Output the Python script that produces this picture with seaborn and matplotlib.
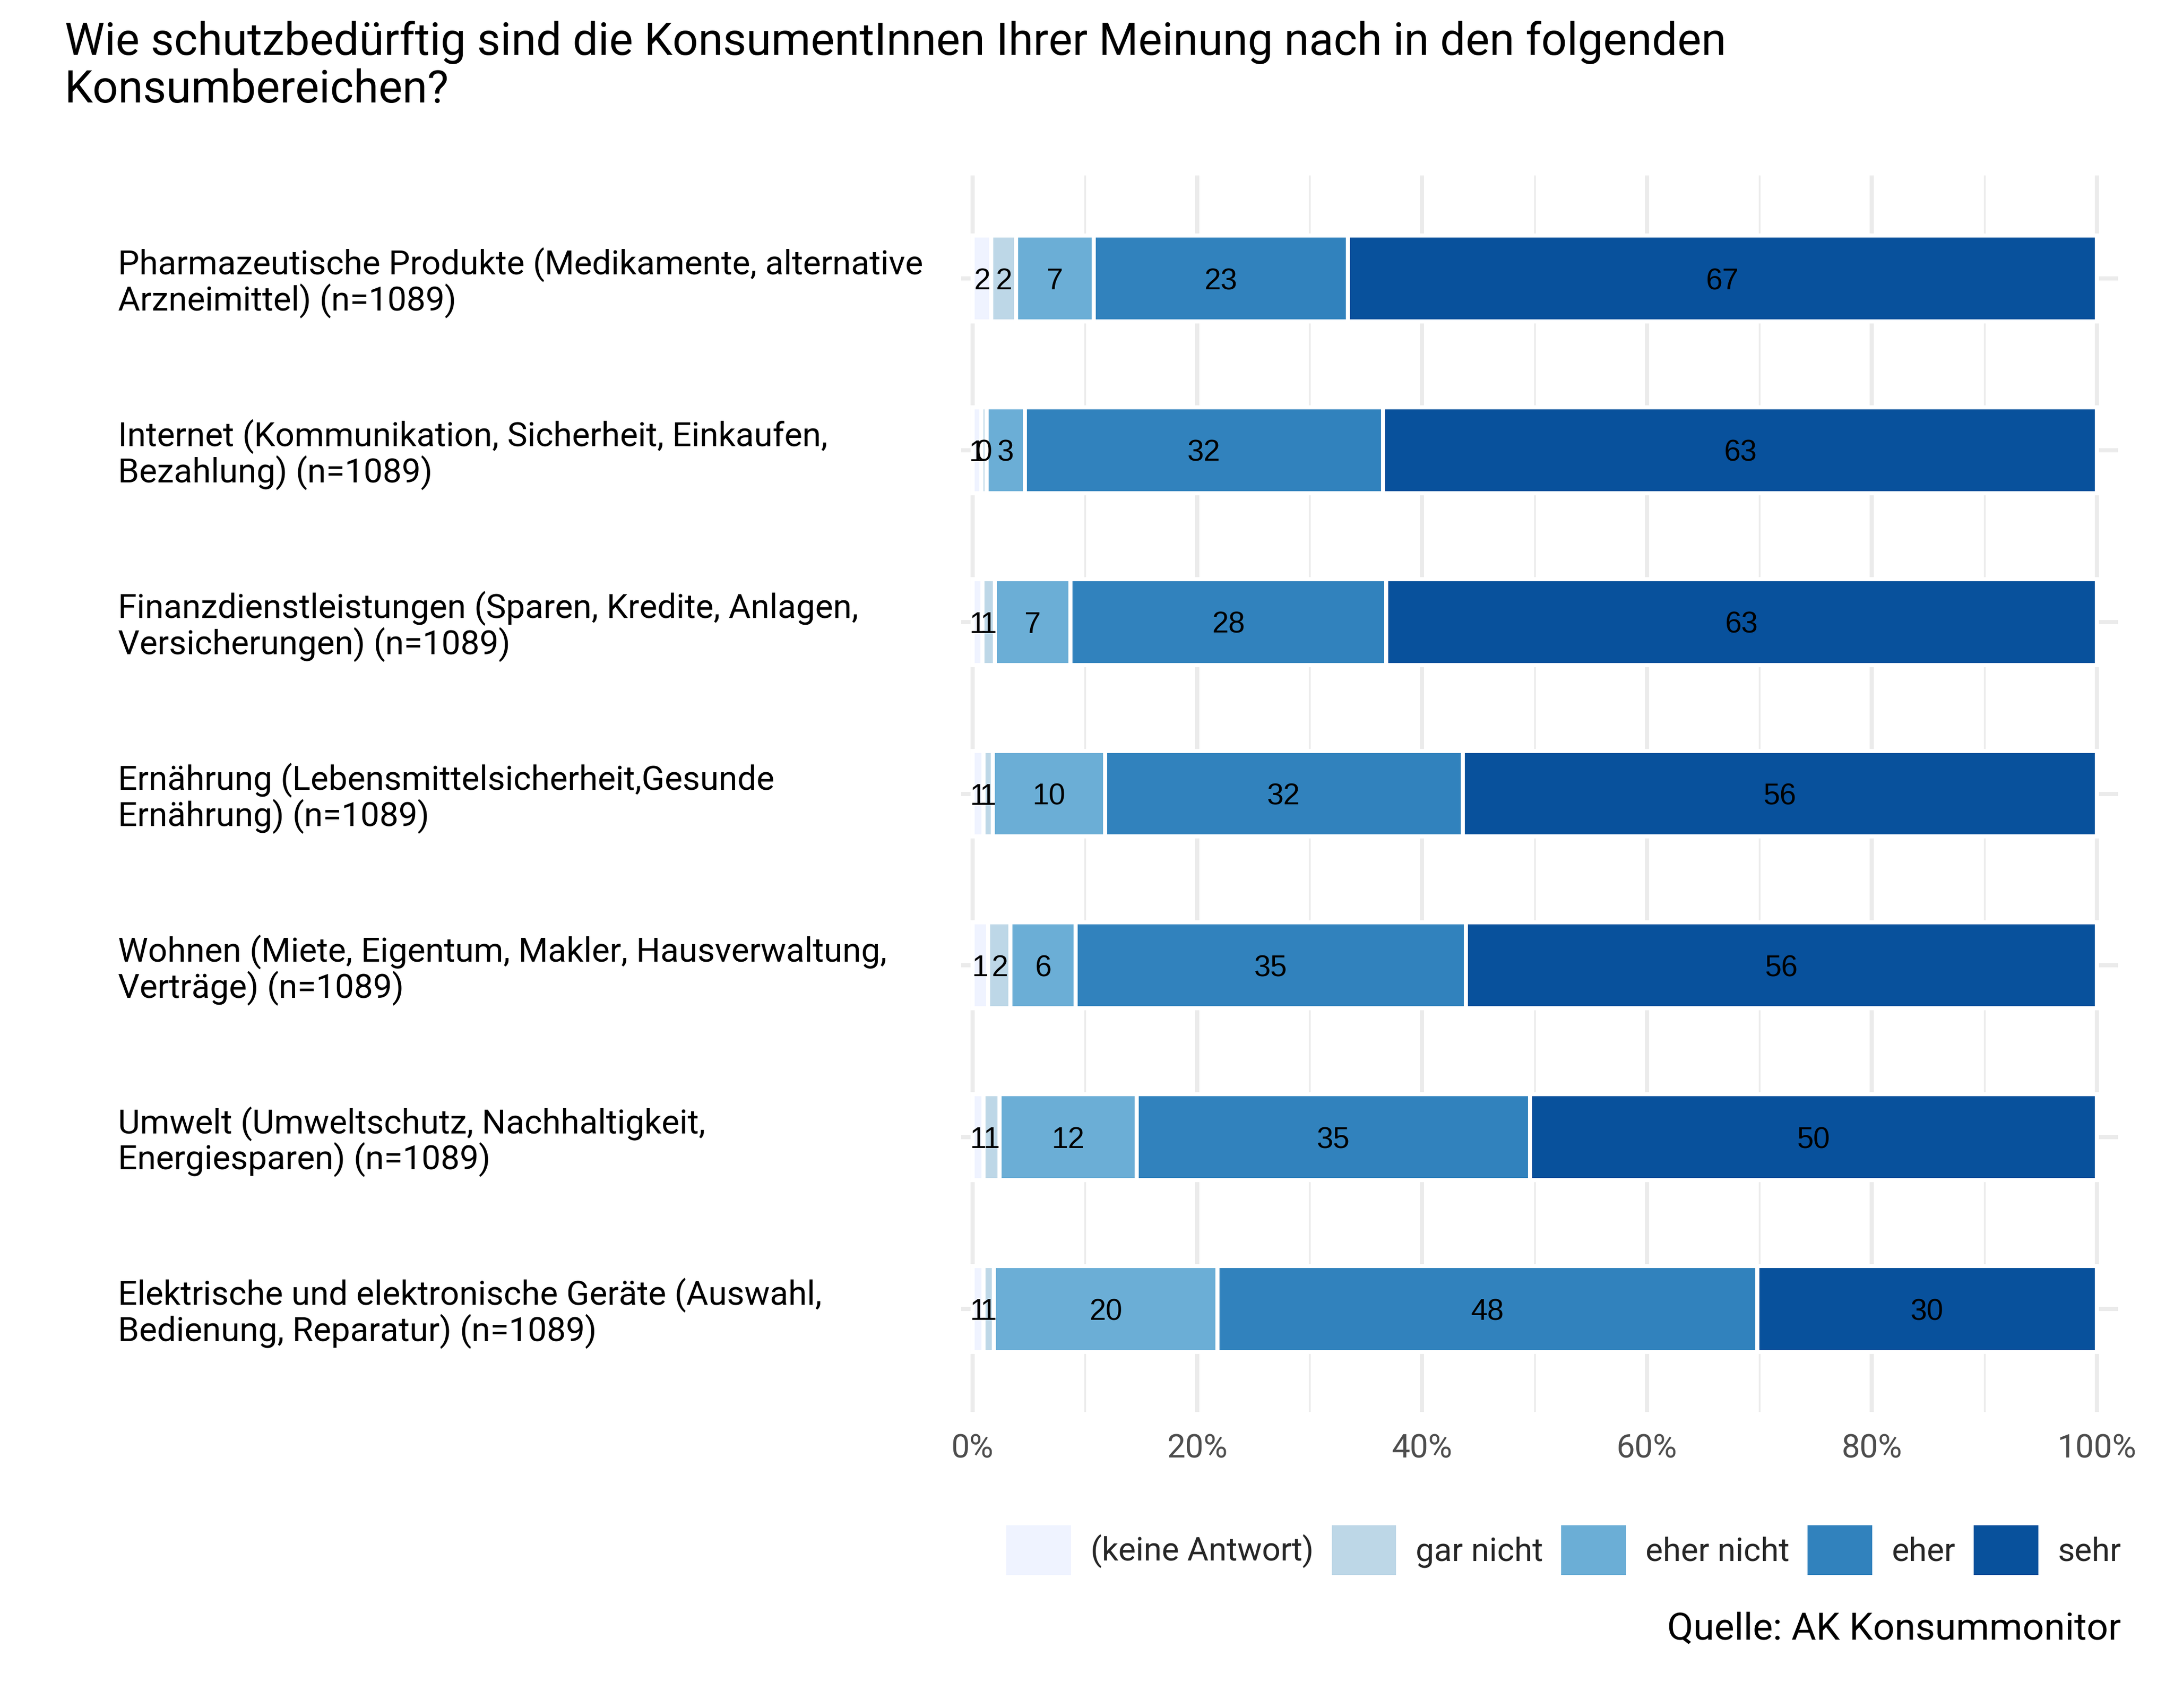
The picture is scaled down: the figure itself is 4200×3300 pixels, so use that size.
import numpy as np
import pandas as pd
import matplotlib
matplotlib.use("Agg")
import matplotlib.pyplot as plt
from matplotlib.patches import Patch
from matplotlib.ticker import MultipleLocator, FuncFormatter
import seaborn as sns

# Konsumbereiche (von oben nach unten)
bereiche = [
    "Pharmazeutische Produkte (Medikamente, alternative\nArzneimittel) (n=1089)",
    "Internet (Kommunikation, Sicherheit, Einkaufen,\nBezahlung) (n=1089)",
    "Finanzdienstleistungen (Sparen, Kredite, Anlagen,\nVersicherungen) (n=1089)",
    "Ernährung (Lebensmittelsicherheit,Gesunde\nErnährung) (n=1089)",
    "Wohnen (Miete, Eigentum, Makler, Hausverwaltung,\nVerträge) (n=1089)",
    "Umwelt (Umweltschutz, Nachhaltigkeit,\nEnergiesparen) (n=1089)",
    "Elektrische und elektronische Geräte (Auswahl,\nBedienung, Reparatur) (n=1089)",
]
antworten = ["(keine Antwort)", "gar nicht", "eher nicht", "eher", "sehr"]

# Anteile in Prozent
keine_antwort = [1.7, 0.8, 0.9, 1.0, 1.4, 1.0, 1.0]
gar_nicht = [2.2, 0.45, 1.1, 0.8, 2.0, 1.4, 0.9]
eher_nicht = [6.9, 3.4, 6.7, 10.0, 5.8, 12.2, 19.9]
eher = [22.6, 31.9, 28.1, 31.8, 34.7, 35.0, 48.0]
sehr = [66.6, 63.45, 63.2, 56.4, 56.1, 50.4, 30.2]

farben = ["#EFF3FF", "#BDD7E7", "#6BAED6", "#3182BD", "#08519C"]

titel = ("Wie schutzbedürftig sind die KonsumentInnen Ihrer Meinung nach in den folgenden\n"
         "Konsumbereichen?")
quelle = "Quelle: AK Konsummonitor"

sns.set_theme(style="white")
plt.rcParams["font.family"] = ["Roboto", "DejaVu Sans"]

df = pd.DataFrame({
    "bereich": bereiche,
    antworten[0]: keine_antwort,
    antworten[1]: gar_nicht,
    antworten[2]: eher_nicht,
    antworten[3]: eher,
    antworten[4]: sehr,
})
werte = df[antworten]
kumuliert = werte.cumsum(axis=1)

fig = plt.figure(figsize=(14, 11), dpi=300)
ax = fig.add_axes([0.4421, 0.1733, 0.5322, 0.724])
ax.set_axisbelow(True)

# gestapelte Balken: laengste Summe zuerst, dann darueber die kuerzeren
for i in range(len(antworten) - 1, -1, -1):
    sns.barplot(x=kumuliert.iloc[:, i].values, y=df["bereich"], color=farben[i],
                saturation=1, width=0.5, edgecolor="white", linewidth=1.9,
                orient="h", ax=ax)

# Beschriftung in den Segmenten
for i in range(len(antworten)):
    mitte = kumuliert.iloc[:, i] - werte.iloc[:, i] / 2
    for j in range(len(df)):
        ax.text(mitte.iloc[j], j, f"{werte.iloc[j, i]:.0f}", ha="center",
                va="center_baseline", fontsize=13.8, color="black",
                family=["Liberation Sans", "DejaVu Sans"])

ax.set_xlim(-1.0, 101.9)
ax.set_ylim(6.6, -0.6)
ax.xaxis.set_major_locator(MultipleLocator(20))
ax.xaxis.set_minor_locator(MultipleLocator(10))
ax.xaxis.set_major_formatter(FuncFormatter(lambda v, p: f"{v:.0f}%"))
ax.grid(which="major", axis="both", color="#EBEBEB", linewidth=1.9)
ax.grid(which="minor", axis="x", color="#EBEBEB", linewidth=0.8)
sns.despine(ax=ax, left=True, bottom=True)
ax.set_xlabel("")
ax.set_ylabel("")

ax.tick_params(axis="both", which="both", length=0)
ax.tick_params(axis="x", labelsize=15.2, labelcolor="#4D4D4D", pad=10)
ax.tick_params(axis="y", labelsize=15.7, labelcolor="black", pad=391)
for lab in ax.get_yticklabels():
    lab.set_ha("left")
    lab.set_linespacing(1.05)

fig.text(125 / 4200, 1 - 40 / 3300, titel, ha="left", va="top", fontsize=20.9,
         linespacing=1.12, color="black")

handles = [Patch(facecolor=f, edgecolor="none") for f in farben]
fig.legend(handles, antworten, ncol=5, loc="center right",
           bbox_to_anchor=(4098 / 4200, 1 - 2995 / 3300), frameon=False,
           fontsize=15.2, handlelength=1.97, handleheight=1.97,
           handletextpad=0.6, columnspacing=0.55, borderpad=0, borderaxespad=0)

fig.text(4098 / 4200, 1 - 3167 / 3300, quelle, ha="right", va="baseline",
         fontsize=17.6, color="black")

fig.savefig("out.png", dpi=300)
